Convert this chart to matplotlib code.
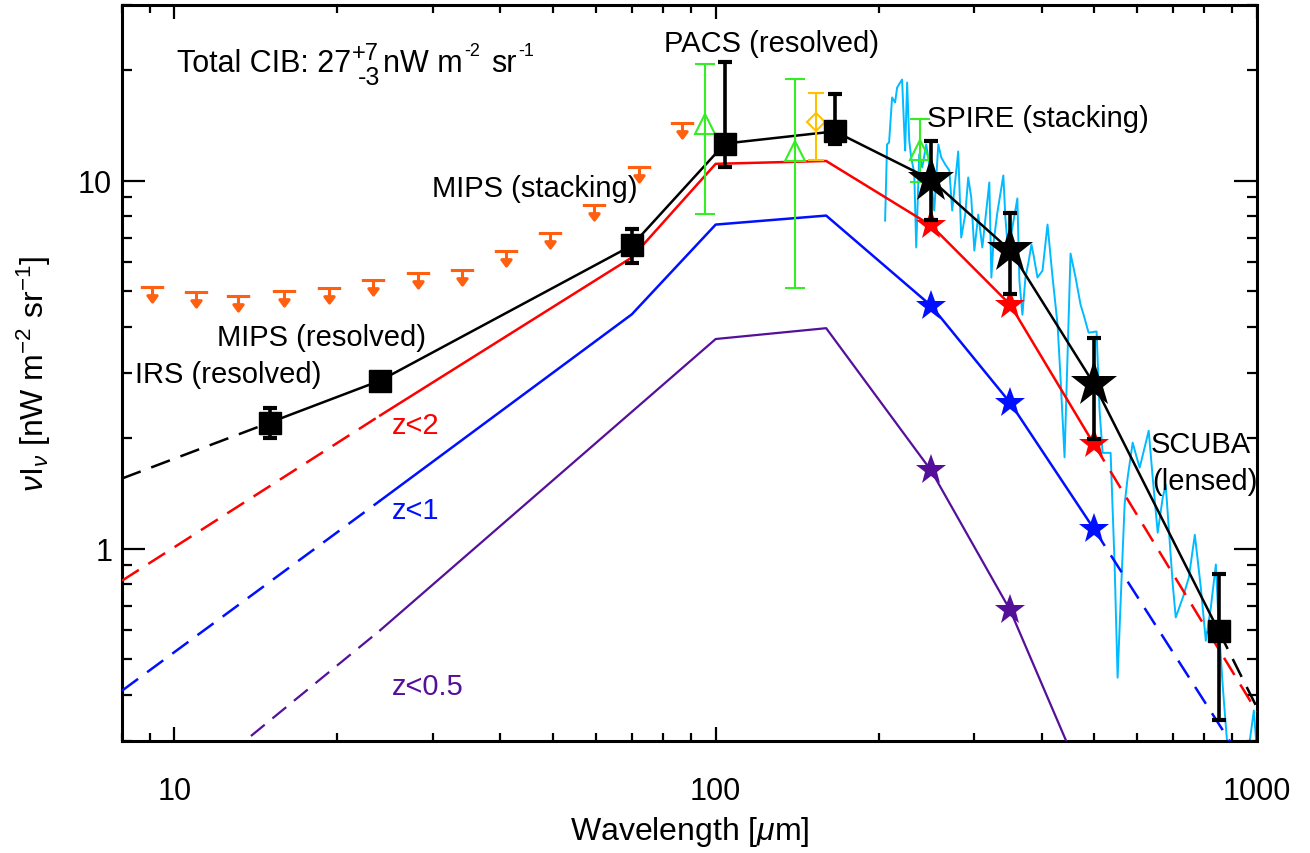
import numpy as np
import matplotlib
matplotlib.use('Agg')
import matplotlib.pyplot as plt
from matplotlib import ticker
from matplotlib.path import Path

plt.rcParams['font.family'] = ['Liberation Sans', 'DejaVu Sans']
plt.rcParams['mathtext.fontset'] = 'custom'
plt.rcParams['mathtext.rm'] = 'Liberation Sans'
plt.rcParams['mathtext.it'] = 'Liberation Sans:italic'
plt.rcParams['mathtext.default'] = 'regular'

# 总CIB模型曲线 (黑色) 及其数据点
total_wl = [8, 15, 24, 70, 104, 166, 250, 350, 500, 850, 1000]
total_val = [1.55, 2.2, 2.86, 6.66, 12.6, 13.6, 10.06, 6.46, 2.80, 0.597, 0.37]

# 方块数据点 (IRS, MIPS, PACS, SCUBA)
sq_wl = [15, 24, 70, 104, 166, 850]
sq_val = [2.2, 2.86, 6.66, 12.6, 13.6, 0.597]
sq_lo = [2.0, 2.78, 5.98, 10.85, 12.6, 0.3415]
sq_hi = [2.41, 2.95, 7.38, 21.0, 17.2, 0.855]

# SPIRE 堆叠 (黑色大星)
spire_wl = [250, 350, 500]
spire_val = [10.06, 6.46, 2.80]
spire_lo = [7.8, 4.91, 1.98]
spire_hi = [12.77, 8.18, 3.73]

# 红移分段曲线
model_wl = [8, 24, 70, 100, 160, 250, 350, 500, 1000]
z2_val = [0.818, 2.30, 6.18, 11.1, 11.3, 7.55, 4.6, 1.92, 0.36]
z1_val = [0.411, 1.35, 4.33, 7.59, 8.03, 4.57, 2.49, 1.13, 0.23]
z05_wl = [8, 24, 100, 160, 250, 350, 500]
z05_val = [0.16, 0.60, 3.71, 3.97, 1.63, 0.68, 0.20]

# 上限 (橙色)
lim_wl = [9.09, 10.98, 13.1, 15.96, 19.3, 23.3, 28.2, 34.0, 41.0, 49.5, 59.7, 72.2, 86.5]
lim_val = [5.15, 4.97, 4.87, 5.02, 5.09, 5.38, 5.59, 5.73, 6.45, 7.18, 8.6, 10.9, 14.3]

# 绿色三角
tri_wl = [95.5, 140, 239]
tri_val = [14.2, 12.06, 12.1]
tri_lo = [8.09, 5.12, 9.9]
tri_hi = [20.7, 18.9, 14.7]

# 黄色菱形
dia_wl = [153]
dia_val = [14.4]
dia_lo = [11.4]
dia_hi = [17.3]

# FIRAS 光谱 (青色)
spec_wl = [205.6, 207.3, 209.1, 211.8, 214.5, 216.4, 221.0, 222.9, 223.9, 225.8,
           227.8, 229.7, 232.7, 234.7, 237.7, 240.8, 244.9, 249.1, 253.4, 257.8,
           261.1, 265.6, 270.2, 273.5, 280.6, 284.2, 289.1, 292.8, 296.6, 300.5,
           305.6, 310.9, 320.3, 323.1, 325.8, 331.4, 340.0, 342.9, 347.4, 353.3,
           360.9, 364.0, 368.7, 373.5, 378.3, 383.2, 386.5, 393.1, 401.6, 410.3,
           419.2, 428.2, 433.6, 441.1, 452.5, 462.3, 472.2, 478.3, 488.6, 505.5,
           512.0, 518.6, 536.6, 545.8, 552.8, 562.3, 569.6, 576.9, 589.4, 599.5,
           607.3, 631.0, 641.8, 655.6, 669.8, 678.4, 687.1, 699.0, 707.9, 729.5,
           748.4, 767.8, 787.6, 804.5, 821.8, 839.6, 850.4, 865.0, 883.7, 934.0,
           987.0, 1000]
spec_val = [7.78, 12.53, 12.69, 16.81, 16.29, 17.89, 18.81, 13.93, 12.06, 18.46,
            12.85, 11.55, 10.51, 6.58, 11.77, 10.85, 12.53, 10.65, 8.29, 12.53,
            11.55, 11.05, 10.65, 8.29, 11.99, 7.00, 8.08, 10.19, 8.99, 6.45,
            8.08, 6.58, 9.88, 5.45, 6.70, 8.18, 10.32, 7.94, 6.29, 7.45,
            8.94, 5.35, 4.32, 5.45, 5.99, 6.70, 6.29, 5.45, 5.69, 7.59,
            5.45, 4.06, 2.91, 1.77, 6.33, 5.45, 4.60, 4.32, 3.86, 3.89,
            2.37, 1.82, 1.82, 0.905, 0.446, 0.834, 1.32, 1.56, 1.94, 1.77,
            1.66, 2.09, 1.56, 1.105, 1.376, 1.49, 1.14, 0.798, 0.65, 0.736,
            0.834, 1.09, 0.783, 0.562, 0.691, 0.905, 0.61, 0.419, 0.28, 0.2,
            0.363, 0.28]

RED = '#ff0000'
BLUE = '#0010ff'
PURPLE = '#55109a'
ORANGE = '#ff6010'
GREEN = '#33ee22'
GOLD = '#ffc000'
CYAN = '#00bbff'
DASH = (0, (8, 4.5))

fig = plt.figure(figsize=(13.1, 8.54), dpi=100)
ax = fig.add_axes([0.0931, 0.1311, 0.8664, 0.862])
ax.set_xscale('log')
ax.set_yscale('log')

# 光谱
ax.plot(spec_wl, spec_val, color=CYAN, lw=1.4, zorder=1)

# 模型曲线: 实线部分和虚线外推
def seg_plot(wl, val, dashed_ranges, solid_range, color, lw):
    s0, s1 = solid_range
    ax.plot(wl[s0:s1], val[s0:s1], color=color, lw=lw, zorder=3)
    for a, b in dashed_ranges:
        ax.plot(wl[a:b], val[a:b], color=color, lw=lw, ls=DASH, zorder=3)

seg_plot(z05_wl, z05_val, [(0, 2)], (1, 7), PURPLE, 1.6)
seg_plot(model_wl, z1_val, [(0, 2), (7, 9)], (1, 8), BLUE, 1.8)
seg_plot(model_wl, z2_val, [(0, 2), (7, 9)], (1, 8), RED, 1.8)
seg_plot(total_wl, total_val, [(0, 2), (9, 11)], (1, 10), 'k', 1.8)

# 彩色星
ax.plot(model_wl[5:8], z2_val[5:8], '*', color=RED, ms=23, mew=0, zorder=4)
ax.plot(model_wl[5:8], z1_val[5:8], '*', color=BLUE, ms=23, mew=0, zorder=4)
ax.plot(z05_wl[4:7], z05_val[4:7], '*', color=PURPLE, ms=23, mew=0, zorder=4)

# 橙色上限符号
lim_marker = Path([(-1, 0), (1, 0), (0, 0), (0, -0.7), (-0.4, -0.7), (0.4, -0.7), (0, -1.25), (-0.4, -0.7)],
                  [Path.MOVETO, Path.LINETO, Path.MOVETO, Path.LINETO,
                   Path.MOVETO, Path.LINETO, Path.LINETO, Path.CLOSEPOLY])
ax.plot(lim_wl, lim_val, ls='none', marker=lim_marker, ms=21, color=ORANGE,
        mec=ORANGE, mfc=ORANGE, mew=2.2, zorder=5)

# 绿色三角, 黄色菱形
tri_val = np.array(tri_val)
ax.errorbar(tri_wl, tri_val, yerr=[tri_val - np.array(tri_lo), np.array(tri_hi) - tri_val],
            fmt='^', mfc='none', mec=GREEN, ms=15, mew=1.5, ecolor=GREEN,
            elinewidth=1.5, capsize=7, capthick=1.5, zorder=5)
dia_val = np.array(dia_val)
ax.errorbar(dia_wl, dia_val, yerr=[dia_val - np.array(dia_lo), np.array(dia_hi) - dia_val],
            fmt='D', mfc='none', mec=GOLD, ms=9, mew=1.5, ecolor=GOLD,
            elinewidth=1.5, capsize=6, capthick=1.5, zorder=5)

# 黑色数据点
sq_val = np.array(sq_val)
ax.errorbar(sq_wl, sq_val, yerr=[sq_val - np.array(sq_lo), np.array(sq_hi) - sq_val],
            fmt='s', color='k', ms=16, ecolor='k', elinewidth=2.6,
            capsize=5, capthick=3, zorder=6)
spire_val = np.array(spire_val)
ax.plot(spire_wl, spire_val, '*', color='k', ms=35, mew=0, zorder=6)
ax.errorbar(spire_wl, spire_val, yerr=[spire_val - np.array(spire_lo), np.array(spire_hi) - spire_val],
            fmt='none', ecolor='k', elinewidth=2.6, capsize=5, capthick=3, zorder=7)

ax.set_xlim(8, 1000)
ax.set_ylim(0.3, 30)

fs = 21
ax.xaxis.set_major_formatter(ticker.FuncFormatter(lambda v, p: f'{v:g}'))
ax.yaxis.set_major_formatter(ticker.FuncFormatter(lambda v, p: f'{v:g}'))
ax.xaxis.set_minor_formatter(ticker.NullFormatter())
ax.yaxis.set_minor_formatter(ticker.NullFormatter())
ax.tick_params(which='both', direction='in', top=True, right=True, labelsize=22, width=1.6)
ax.tick_params(axis='x', which='major', length=10, pad=25)
ax.tick_params(axis='x', which='minor', length=5.5)
ax.tick_params(axis='y', which='major', length=16.5, pad=7)
ax.tick_params(axis='y', which='minor', length=7.5)
for sp in ax.spines.values():
    sp.set_linewidth(2.2)

ax.set_xlabel(r'Wavelength [$\mathit{\mu}$m]', fontsize=23, labelpad=6)
ax.set_ylabel(r'$\mathit{\nu}$I$_{\mathit{\nu}}$ [nW m$^{-2}$ sr$^{-1}$]', fontsize=23, labelpad=18)

# 顶部总量文字: 各部分依次接在前一段后面 (偏移以基准文字框底边为参照)
base = ax.text(10.1, 19.9, 'Total CIB: 27', fontsize=22, va='baseline')
up = ax.annotate('+7', xy=(1, 0), xycoords=base, xytext=(1, 13),
                 textcoords='offset points', fontsize=17, va='baseline')
ax.annotate('-3', xy=(1, 0), xycoords=base, xytext=(5, -5),
            textcoords='offset points', fontsize=18, va='baseline')
nw = ax.annotate('nW m', xy=(1, 0), xycoords=(up, base), xytext=(3, 4.6),
                 textcoords='offset points', fontsize=22, va='baseline')
e2 = ax.annotate('-2', xy=(1, 0), xycoords=(nw, base), xytext=(1, 16),
                 textcoords='offset points', fontsize=13, va='baseline')
sr = ax.annotate('sr', xy=(1, 0), xycoords=(e2, base), xytext=(8, 4.6),
                 textcoords='offset points', fontsize=22, va='baseline')
ax.annotate('-1', xy=(1, 0), xycoords=(sr, base), xytext=(1, 16),
            textcoords='offset points', fontsize=13, va='baseline')

ax.text(80.4, 23.7, 'PACS (resolved)', fontsize=fs, va='center')
ax.text(245.9, 14.8, 'SPIRE (stacking)', fontsize=fs, va='center')
ax.text(29.9, 9.57, 'MIPS (stacking)', fontsize=fs, va='center')
ax.text(12.0, 3.75, 'MIPS (resolved)', fontsize=fs, va='center')
ax.text(8.47, 2.99, 'IRS (resolved)', fontsize=fs, va='center')
ax.text(636, 1.92, 'SCUBA', fontsize=fs, va='center')
ax.text(640, 1.53, '(lensed)', fontsize=fs, va='center')
ax.text(25.2, 2.16, 'z<2', fontsize=fs, va='center', color=RED)
ax.text(25.2, 1.27, 'z<1', fontsize=fs, va='center', color=BLUE)
ax.text(25.2, 0.424, 'z<0.5', fontsize=fs, va='center', color=PURPLE)

fig.savefig('out.png', dpi=100)
